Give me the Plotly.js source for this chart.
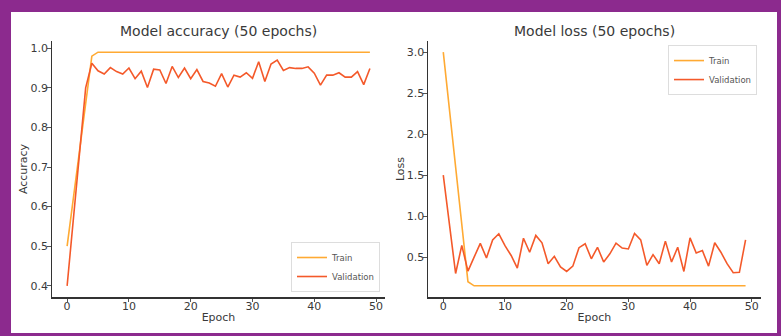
<!DOCTYPE html>
<html>
<head>
<meta charset="utf-8">
<script src="https://cdn.plot.ly/plotly-3.0.1.min.js"></script>
<style>
  html, body { margin: 0; padding: 0; width: 781px; height: 336px; background: #8C2A8E; overflow: hidden; }
  #chart { position: absolute; left: 11px; top: 12px; width: 766px; height: 321px; background: #ffffff; }
</style>
</head>
<body>
<div id="chart"></div>
<script>
const epochs = Array.from({length: 50}, (_, i) => i);

const trainAcc = [0.50, 0.62, 0.74, 0.86, 0.98, 0.99, 0.99, 0.99, 0.99, 0.99,
  0.99, 0.99, 0.99, 0.99, 0.99, 0.99, 0.99, 0.99, 0.99, 0.99,
  0.99, 0.99, 0.99, 0.99, 0.99, 0.99, 0.99, 0.99, 0.99, 0.99,
  0.99, 0.99, 0.99, 0.99, 0.99, 0.99, 0.99, 0.99, 0.99, 0.99,
  0.99, 0.99, 0.99, 0.99, 0.99, 0.99, 0.99, 0.99, 0.99, 0.99];

const valAcc = [0.40, 0.567, 0.733, 0.90, 0.962, 0.943, 0.935, 0.951, 0.941, 0.935,
  0.950, 0.923, 0.942, 0.901, 0.947, 0.945, 0.911, 0.954, 0.926, 0.950,
  0.923, 0.946, 0.916, 0.912, 0.904, 0.936, 0.902, 0.932, 0.927, 0.938,
  0.924, 0.966, 0.916, 0.960, 0.970, 0.944, 0.951, 0.949, 0.949, 0.953,
  0.937, 0.907, 0.932, 0.932, 0.938, 0.927, 0.927, 0.941, 0.908, 0.949];

const trainLoss = [3.0, 2.3, 1.6, 0.9, 0.2, 0.15, 0.15, 0.15, 0.15, 0.15,
  0.15, 0.15, 0.15, 0.15, 0.15, 0.15, 0.15, 0.15, 0.15, 0.15,
  0.15, 0.15, 0.15, 0.15, 0.15, 0.15, 0.15, 0.15, 0.15, 0.15,
  0.15, 0.15, 0.15, 0.15, 0.15, 0.15, 0.15, 0.15, 0.15, 0.15,
  0.15, 0.15, 0.15, 0.15, 0.15, 0.15, 0.15, 0.15, 0.15, 0.15];

const valLoss = [1.50, 0.90, 0.30, 0.643, 0.33, 0.50, 0.667, 0.49, 0.71, 0.785,
  0.64, 0.52, 0.365, 0.73, 0.56, 0.765, 0.675, 0.42, 0.51, 0.38,
  0.325, 0.39, 0.615, 0.663, 0.48, 0.62, 0.44, 0.54, 0.67, 0.61,
  0.60, 0.79, 0.71, 0.40, 0.53, 0.42, 0.695, 0.44, 0.62, 0.325,
  0.735, 0.55, 0.58, 0.39, 0.675, 0.56, 0.42, 0.31, 0.315, 0.71];

const accTicks = [0.4, 0.5, 0.6, 0.7, 0.8, 0.9, 1.0];
const lossTicks = [0.5, 1.0, 1.5, 2.0, 2.5, 3.0];
const epochTicks = [0, 10, 20, 30, 40, 50];

const TRAIN_COLOR = '#FFAA33';
const VAL_COLOR = '#F4592A';
const FONT = 'DejaVu Sans, sans-serif';
const TXT = '#3a3a3a';

const traces = [
  {x: epochs, y: trainAcc, name: 'Train', type: 'scatter', mode: 'lines',
   line: {color: TRAIN_COLOR, width: 1.6}, xaxis: 'x', yaxis: 'y', legend: 'legend'},
  {x: epochs, y: valAcc, name: 'Validation', type: 'scatter', mode: 'lines',
   line: {color: VAL_COLOR, width: 1.6}, xaxis: 'x', yaxis: 'y', legend: 'legend'},
  {x: epochs, y: trainLoss, name: 'Train', type: 'scatter', mode: 'lines',
   line: {color: TRAIN_COLOR, width: 1.6}, xaxis: 'x2', yaxis: 'y2', legend: 'legend2'},
  {x: epochs, y: valLoss, name: 'Validation', type: 'scatter', mode: 'lines',
   line: {color: VAL_COLOR, width: 1.6}, xaxis: 'x2', yaxis: 'y2', legend: 'legend2'}
];

function axisBase() {
  return {
    showline: true, linecolor: '#333333', linewidth: 1.2,
    ticks: 'outside', ticklen: 3.5, tickwidth: 1, tickcolor: '#555555',
    showgrid: false, zeroline: false, mirror: false,
    tickfont: {family: FONT, size: 11, color: TXT},
    fixedrange: true
  };
}

const xa = Object.assign(axisBase(), {
  domain: [0.0535, 0.4883], range: [-2.45, 51.45], tickvals: epochTicks, anchor: 'y',
  ticklabelstandoff: -5,
  title: {text: 'Epoch', font: {family: FONT, size: 11, color: TXT}, standoff: 1}
});
const ya = Object.assign(axisBase(), {
  domain: [0.1106, 0.9112], range: [0.3705, 1.0195], tickvals: accTicks, tickformat: '.1f', anchor: 'x',
  ticklabelstandoff: -3,
  title: {text: 'Accuracy', font: {family: FONT, size: 11, color: TXT}, standoff: 0}
});
const xa2 = Object.assign(axisBase(), {
  domain: [0.5446, 0.9787], range: [-2.45, 51.45], tickvals: epochTicks, anchor: 'y2',
  ticklabelstandoff: -5,
  title: {text: 'Epoch', font: {family: FONT, size: 11, color: TXT}, standoff: 1}
});
const ya2 = Object.assign(axisBase(), {
  domain: [0.1106, 0.9112], range: [0.0075, 3.1425], tickvals: lossTicks, tickformat: '.1f', anchor: 'x2',
  ticklabelstandoff: -3,
  title: {text: 'Loss', font: {family: FONT, size: 11, color: TXT}, standoff: 0}
});

const legendBase = {
  xref: 'paper', yref: 'paper',
  bgcolor: 'rgba(255,255,255,0.9)', bordercolor: '#dddddd', borderwidth: 1,
  font: {family: FONT, size: 8.5, color: '#555555'},
  itemwidth: 30, tracegroupgap: 0
};

const layout = {
  width: 766, height: 321,
  margin: {l: 0, r: 0, t: 0, b: 0},
  paper_bgcolor: '#ffffff', plot_bgcolor: '#ffffff',
  showlegend: true,
  xaxis: xa, yaxis: ya, xaxis2: xa2, yaxis2: ya2,
  legend: Object.assign({}, legendBase, {x: 0.4817, y: 0.1277, xanchor: 'right', yanchor: 'bottom'}),
  legend2: Object.assign({}, legendBase, {x: 0.9739, y: 0.897, xanchor: 'right', yanchor: 'top'}),
  annotations: [
    {text: 'Model accuracy (50 epochs)', xref: 'paper', yref: 'paper',
     x: (0.0535 + 0.4883) / 2, y: 0.941, xanchor: 'center', yanchor: 'middle',
     showarrow: false, font: {family: FONT, size: 14, color: TXT}},
    {text: 'Model loss (50 epochs)', xref: 'paper', yref: 'paper',
     x: (0.5446 + 0.9787) / 2, y: 0.941, xanchor: 'center', yanchor: 'middle',
     showarrow: false, font: {family: FONT, size: 14, color: TXT}}
  ]
};

Plotly.newPlot('chart', traces, layout, {displayModeBar: false, staticPlot: true});
</script>
</body>
</html>
